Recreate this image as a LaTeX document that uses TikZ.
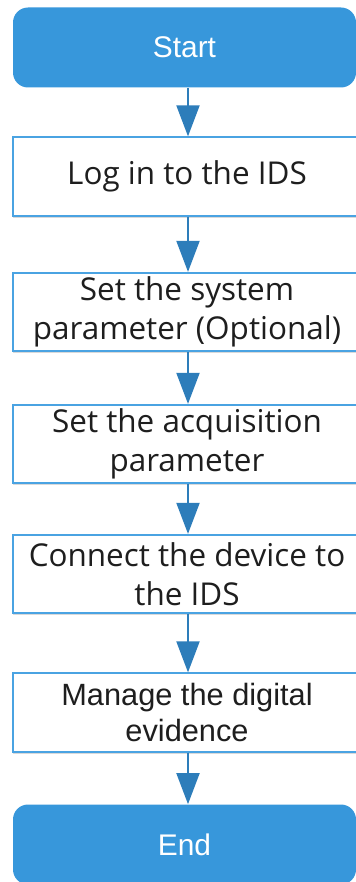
\documentclass[tikz,border=0pt]{standalone}
\usepackage{fontspec}
\setmainfont{Open Sans}
\newfontfamily\termfont{Liberation Sans}
\usetikzlibrary{arrows.meta,shadows}
\definecolor{termblue}{HTML}{3797DB}
\definecolor{lineblue}{HTML}{4AA3E2}
\definecolor{arrowblue}{HTML}{2D7DBA}
\definecolor{inkgray}{HTML}{1E1E1E}
\tikzset{
  terminal/.style={rectangle, rounded corners=0.3cm, fill=termblue, text=white,
    minimum width=6.86cm, minimum height=1.6cm, inner sep=0pt,
    font=\termfont\fontsize{17}{20}\selectfont},
  stepbox/.style={rectangle, draw=lineblue, line width=1pt, fill=white, text=inkgray,
    minimum width=6.96cm, minimum height=1.57cm, inner sep=0pt, align=center,
    font=\fontsize{17.9}{22}\selectfont,
    drop shadow={shadow xshift=0cm, shadow yshift=-0.04cm, opacity=0.3, fill=gray}},
  flow/.style={arrowblue, line width=1.1pt, -{Triangle[width=0.46cm,length=0.62cm]}}
}
\begin{document}
\begin{tikzpicture}
    \useasboundingbox (0,0) rectangle (7.1,-17.64);

    \node[terminal] (start) at (3.69,-0.95) {Start};
    \node[stepbox] (login) at (3.74,-3.53) {Log in to the IDS};
    \node[stepbox] (sysparam) at (3.74,-6.24) {Set the system\\parameter (Optional)};
    \node[stepbox] (acqparam) at (3.74,-8.88) {Set the acquisition\\parameter};
    \node[stepbox] (connect) at (3.74,-11.48) {Connect the device to\\the IDS};
    \node[stepbox, font=\termfont\fontsize{17.5}{20.5}\selectfont] (manage) at (3.74,-14.25) {Manage the digital\\evidence};
    \node[terminal] (end) at (3.69,-16.89) {End};

    \coordinate (axis) at (3.76,0);
    \draw[flow] (start.south -| axis) -- (login.north -| axis);
    \draw[flow] (login.south -| axis) -- (sysparam.north -| axis);
    \draw[flow] (sysparam.south -| axis) -- (acqparam.north -| axis);
    \draw[flow] (acqparam.south -| axis) -- (connect.north -| axis);
    \draw[flow] (connect.south -| axis) -- (manage.north -| axis);
    \draw[flow] (manage.south -| axis) -- (end.north -| axis);

\end{tikzpicture}
\end{document}
